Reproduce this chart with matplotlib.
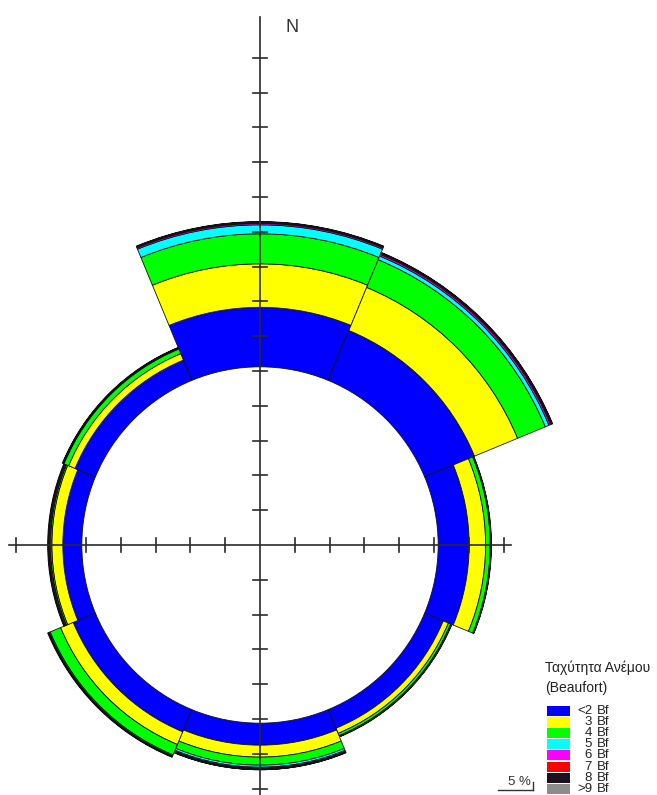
import matplotlib
matplotlib.use("Agg")
import matplotlib.pyplot as plt
from matplotlib.patches import Wedge, Rectangle

# Wind rose: frequency (%) of wind per direction and Beaufort class
directions = ["N", "NE", "E", "SE", "S", "SW", "W", "NW"]
bearings = [0, 45, 90, 135, 180, 225, 270, 315]
speed_classes = ["<2", "3", "4", "5", "6", "7", "8", ">9"]
class_colors = ["#0000ff", "#ffff00", "#00ff00", "#00ffff",
                "#ff00ff", "#ff0000", "#1e0f1e", "#8c8c8c"]

calm_pct = 25.6

bf_le2 = [8.55, 7.76, 4.45, 2.90, 3.16, 3.45, 2.73, 3.16]
bf_3 = [6.25, 6.70, 2.37, 0.80, 1.72, 1.97, 1.58, 1.00]
bf_4 = [4.31, 4.31, 0.65, 0.35, 1.15, 1.62, 0.20, 0.72]
bf_5 = [1.29, 0.57, 0.08, 0.07, 0.30, 0.15, 0.05, 0.10]
bf_6 = [0.20, 0.25, 0.04, 0.05, 0.15, 0.10, 0.15, 0.05]
bf_7 = [0.12, 0.15, 0.02, 0.03, 0.10, 0.05, 0.10, 0.05]
bf_8 = [0.10, 0.12, 0.04, 0.05, 0.10, 0.08, 0.10, 0.05]
bf_9 = [0.05, 0.05, 0.00, 0.00, 0.02, 0.00, 0.00, 0.00]
class_series = [bf_le2, bf_3, bf_4, bf_5, bf_6, bf_7, bf_8, bf_9]

tick_step = 5          # % per tick
sector_width = 45.0

W_PX, H_PX = 657, 795
CX, CY = 260, 545      # pixel position of the rose centre
PX_PER_PCT = 6.96

fig = plt.figure(figsize=(W_PX / 100, H_PX / 100), dpi=100)
ax = fig.add_axes([0, 0, 1, 1])
ax.set_xlim(-CX / PX_PER_PCT, (W_PX - CX) / PX_PER_PCT)
ax.set_ylim(-(H_PX - CY) / PX_PER_PCT, CY / PX_PER_PCT)
ax.set_aspect("equal")
ax.axis("off")

# stacked sectors
for d, b in enumerate(bearings):
    start = 90 - b - sector_width / 2
    end = 90 - b + sector_width / 2
    r = calm_pct
    for series, col in zip(class_series, class_colors):
        v = series[d]
        if v <= 0:
            continue
        ax.add_patch(Wedge((0, 0), r + v, start, end, width=v,
                           facecolor=col, edgecolor="#111111", linewidth=0.6,
                           zorder=1))
        r += v

# cross-hair axes with tick marks
axis_col = "#2a2a2a"
h_ext = 7.2 * tick_step
ax.plot([-h_ext, h_ext], [0, 0], color=axis_col, lw=1.2, zorder=3)
ax.plot([0, 0], [ax.get_ylim()[0], (CY - 17) / PX_PER_PCT],
        color=axis_col, lw=1.2, zorder=3)
tl = 0.95
for k in range(1, 8):
    for s in (-1, 1):
        x = s * k * tick_step
        ax.plot([x, x], [-tl, tl], color=axis_col, lw=1.2, zorder=3)
for k in range(-7, 15):
    if k == 0:
        continue
    y = k * tick_step
    ax.plot([-tl, tl], [y, y], color=axis_col, lw=1.2, zorder=3)

ax.text(32 / PX_PER_PCT, (CY - 27) / PX_PER_PCT, "N", fontsize=13,
        color="#333333", ha="center", va="center", family="Liberation Sans")

# scale bar
sb_x0 = (498 - CX) / PX_PER_PCT
sb_y = (CY - 790) / PX_PER_PCT
ax.plot([sb_x0, sb_x0 + tick_step], [sb_y, sb_y], color="#333333", lw=1.0)
ax.plot([sb_x0 + tick_step] * 2, [sb_y, sb_y + 1.1], color="#333333", lw=1.0)
ax.text(sb_x0 + tick_step / 2 + 0.6, sb_y + 0.3, f"{tick_step} %",
        fontsize=9.5, color="#333333", ha="center", va="bottom",
        family="Liberation Sans")


def fx(px):
    return px / W_PX


def fy(py):
    return 1 - py / H_PX


# legend
fig.text(fx(545), fy(668), "Ταχύτητα Ανέμου", fontsize=10, color="#222222",
         ha="left", va="center", family="Liberation Sans")
fig.text(fx(545), fy(688), "(Beaufort)", fontsize=10, color="#222222",
         ha="left", va="center", family="Liberation Sans")
pitch = 11.1
for i, (lab, col) in enumerate(zip(speed_classes, class_colors)):
    yc = 711 + i * pitch
    fig.patches.append(Rectangle((fx(547), fy(yc + 5)), 23 / W_PX, 10 / H_PX,
                                 transform=fig.transFigure, facecolor=col,
                                 edgecolor="none"))
    fig.text(fx(592), fy(yc), lab, fontsize=9.5, color="#222222",
             ha="right", va="center", family="Liberation Sans")
    fig.text(fx(597), fy(yc), "Bf", fontsize=9.5, color="#222222",
             ha="left", va="center", family="Liberation Sans")

fig.savefig("out.png", dpi=100, facecolor="white")
